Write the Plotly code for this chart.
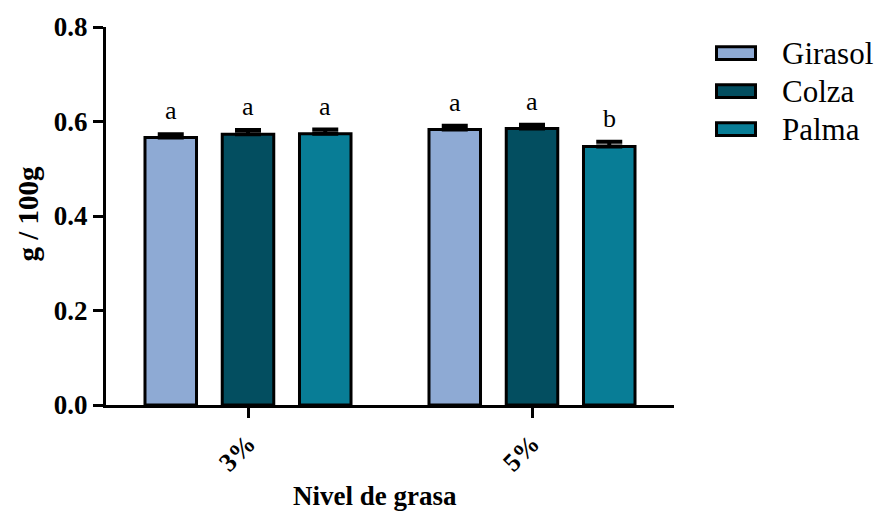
import plotly.graph_objects as go

# Fat level groups and oil series
categories = ["3%", "5%"]
series_names = ["Girasol", "Colza", "Palma"]
series_colors = ["#8eaad4", "#034e60", "#087d96"]

# Means and SEM (g / 100g)
means = {
    "Girasol": [0.566, 0.583],
    "Colza": [0.573, 0.585],
    "Palma": [0.574, 0.547],
}
errors = {
    "Girasol": [0.007, 0.008],
    "Colza": [0.009, 0.008],
    "Palma": [0.009, 0.010],
}
# Significance letters
letters = {
    "Girasol": ["a", "a"],
    "Colza": ["a", "a"],
    "Palma": ["a", "b"],
}

y_ticks = [0.0, 0.2, 0.4, 0.6, 0.8]

FONT = "Liberation Serif, Times New Roman, serif"
BARGAP = 0.184
BARGROUPGAP = 0.333

fig = go.Figure()
for name, color in zip(series_names, series_colors):
    fig.add_trace(go.Bar(
        name=name,
        x=categories,
        y=means[name],
        marker=dict(color=color, line=dict(color="black", width=3)),
        error_y=dict(type="data", symmetric=False, array=errors[name],
                     arrayminus=[0] * len(categories),
                     color="black", thickness=4, width=13),
        showlegend=False,
    ))

# Letters above each bar
slot = (1 - BARGAP) / len(series_names)
annotations = []
for j, name in enumerate(series_names):
    for i, cat in enumerate(categories):
        annotations.append(dict(
            x=i + (j - (len(series_names) - 1) / 2) * slot,
            y=means[name][i] + errors[name][i],
            xref="x", yref="y",
            text=letters[name][i],
            showarrow=False,
            xanchor="center", yanchor="bottom", yshift=7,
            font=dict(family=FONT, size=26, color="black"),
        ))

# Plot-area geometry (px) used to place the legend and titles
L, R, T, B = 106, 206, 22, 109
W, H = 880 - L - R, 514 - T - B


def px_x(px):
    return (px - L) / W


def px_y(py):
    return (514 - B - py) / H


# Axis titles
annotations.append(dict(
    x=px_x(375), y=px_y(497), xref="paper", yref="paper",
    xanchor="center", yanchor="middle", text="<b>Nivel de grasa</b>",
    showarrow=False, font=dict(family=FONT, size=27, color="black"),
))
annotations.append(dict(
    x=px_x(28), y=px_y(211), xref="paper", yref="paper",
    xanchor="center", yanchor="middle", text="<b>g / 100g</b>",
    showarrow=False, textangle=-90, font=dict(family=FONT, size=29, color="black"),
))

# Legend: wide swatches with names
shapes = []
for k, (name, color) in enumerate(zip(series_names, series_colors)):
    cy = 48.5 + k * 38.5
    shapes.append(dict(
        type="rect", xref="paper", yref="paper",
        x0=px_x(716.5), x1=px_x(755.5), y0=px_y(cy - 6.5), y1=px_y(cy + 6.5),
        fillcolor=color, line=dict(color="black", width=3),
    ))
    annotations.append(dict(
        x=px_x(780), y=px_y(cy), xref="paper", yref="paper", text=name,
        showarrow=False, xanchor="left", yanchor="middle",
        font=dict(family=FONT, size=31, color="black"),
    ))

fig.update_layout(
    width=880, height=514,
    margin=dict(l=L, r=R, t=T, b=B),
    paper_bgcolor="white", plot_bgcolor="white",
    barmode="group", bargap=BARGAP, bargroupgap=BARGROUPGAP,
    annotations=annotations, shapes=shapes,
    font=dict(family=FONT, color="black"),
)
fig.update_xaxes(
    range=[-0.5, 1.5], showline=True, linecolor="black", linewidth=3,
    ticks="outside", ticklen=10, tickwidth=3, tickcolor="black",
    tickangle=-45, tickfont=dict(family=FONT, size=26, weight="bold"),
    showgrid=False, zeroline=False,
)
fig.update_yaxes(
    range=[0, 0.8], tickvals=y_ticks, tickformat=".1f",
    showline=True, linecolor="black", linewidth=3,
    ticks="outside", ticklen=10, tickwidth=3, tickcolor="black",
    tickfont=dict(family=FONT, size=27, weight="bold"),
    showgrid=False, zeroline=False,
)

fig.write_html("out.html")
